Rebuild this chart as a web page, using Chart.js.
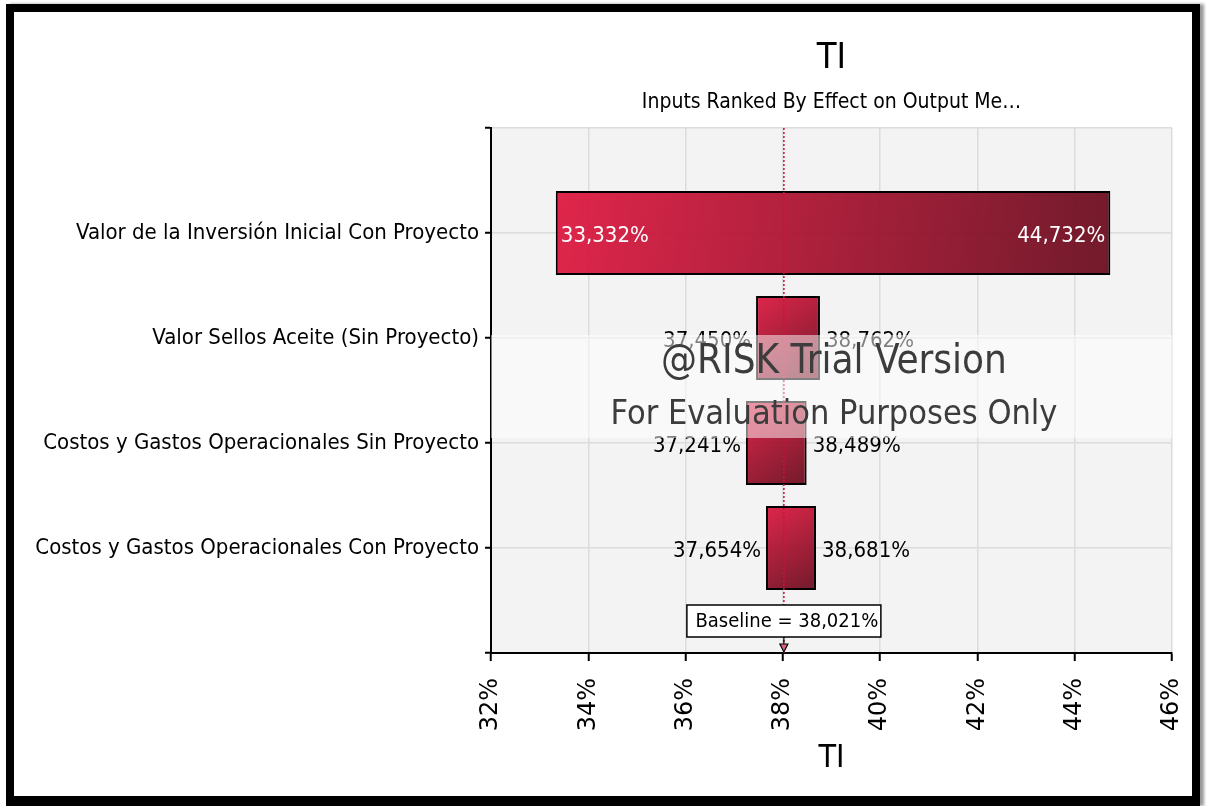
<!DOCTYPE html>
<html>
<head>
<meta charset="utf-8">
<script src="https://cdn.jsdelivr.net/npm/chart.js@4"></script>
<style>
  body { margin: 0; background: #fff; width: 1206px; height: 806px; overflow: hidden; }
  #frame {
    position: absolute; left: 6px; top: 4px;
    width: 1178px; height: 784px;
    border: 8px solid #000; border-bottom-width: 10px;
    box-shadow: 4px 0 3px #999;
    background: #fff;
  }
  canvas { display: block; }
</style>
</head>
<body>
<div id="frame"><canvas id="chart" width="1178" height="784"></canvas></div>
<script>
const categories = [
    "Valor de la Inversión Inicial Con Proyecto",
    "Valor Sellos Aceite (Sin Proyecto)",
    "Costos y Gastos Operacionales Sin Proyecto",
    "Costos y Gastos Operacionales Con Proyecto"
];
const lowValues = [33.332, 37.450, 37.241, 37.654];
const highValues = [44.732, 38.762, 38.489, 38.681];
const baseline = 38.021;
const xMin = 32, xMax = 46, xStep = 2;

const narrow = '"Liberation Sans Narrow", "DejaVu Sans Condensed", sans-serif';
const fmt = v => v.toFixed(3).replace(".", ",") + "%";

// empty slot above and below so the rows sit like in @RISK
const yLabels = [""].concat(categories, [""]);
const barData = [null].concat(categories.map((c, i) => [lowValues[i], highValues[i]]), [null]);

function barGradient(ctx) {
    const chart = ctx.chart;
    const raw = ctx.raw;
    if (!chart.chartArea || !raw) return "#c0143a";
    const xs = chart.scales.x, ys = chart.scales.y;
    const x0 = xs.getPixelForValue(raw[0]);
    const x1 = xs.getPixelForValue(raw[1]);
    const yc = ys.getPixelForValue(ctx.dataIndex);
    const g = chart.ctx.createLinearGradient(x0, yc - 42, x1, yc + 42);
    g.addColorStop(0, "rgba(222,22,62,0.93)");
    g.addColorStop(1, "rgba(104,10,28,0.93)");
    return g;
}

const backdrop = {
    id: "backdrop",
    beforeDraw(chart) {
        const { ctx, chartArea: a } = chart;
        ctx.save();
        ctx.fillStyle = "#f3f3f3";
        ctx.fillRect(a.left, a.top, a.right - a.left, a.bottom - a.top);
        ctx.restore();
    }
};

const extras = {
    id: "extras",
    afterDatasetsDraw(chart) {
        const { ctx, chartArea: a, scales } = chart;
        const bx = scales.x.getPixelForValue(baseline);

        // baseline dotted line
        ctx.save();
        ctx.strokeStyle = "#d0103a";
        ctx.lineWidth = 1.5;
        ctx.setLineDash([2, 2]);
        ctx.beginPath();
        ctx.moveTo(bx, a.top);
        ctx.lineTo(bx, a.bottom);
        ctx.stroke();
        ctx.restore();

        // value labels
        ctx.save();
        ctx.font = "22px " + narrow;
        ctx.textBaseline = "middle";
        categories.forEach((c, i) => {
            const y = scales.y.getPixelForValue(i + 1) + 3;
            const x0 = scales.x.getPixelForValue(lowValues[i]);
            const x1 = scales.x.getPixelForValue(highValues[i]);
            const lo = fmt(lowValues[i]), hi = fmt(highValues[i]);
            const need = ctx.measureText(lo).width + ctx.measureText(hi).width + 30;
            if (x1 - x0 > need) {
                ctx.fillStyle = "#fff";
                ctx.textAlign = "left";
                ctx.fillText(lo, x0 + 5, y);
                ctx.textAlign = "right";
                ctx.fillText(hi, x1 - 5, y);
            } else {
                ctx.fillStyle = "#000";
                ctx.textAlign = "right";
                ctx.fillText(lo, x0 - 5, y);
                ctx.textAlign = "left";
                ctx.fillText(hi, x1 + 6, y);
            }
        });
        ctx.restore();

        // baseline box + arrow
        const bw = 194, bh = 32, btop = a.bottom - 48;
        ctx.save();
        ctx.fillStyle = "#fff";
        ctx.strokeStyle = "#000";
        ctx.lineWidth = 1.5;
        ctx.fillRect(bx - bw / 2, btop, bw, bh);
        ctx.strokeRect(bx - bw / 2, btop, bw, bh);
        ctx.fillStyle = "#000";
        ctx.font = "20px " + narrow;
        ctx.textAlign = "center";
        ctx.textBaseline = "middle";
        ctx.fillText("Baseline = " + fmt(baseline), bx + 3, btop + bh / 2 + 1);
        ctx.beginPath();
        ctx.moveTo(bx - 4, a.bottom - 9);
        ctx.lineTo(bx + 4, a.bottom - 9);
        ctx.lineTo(bx, a.bottom - 1);
        ctx.closePath();
        ctx.fillStyle = "#e06080";
        ctx.fill();
        ctx.lineWidth = 1.2;
        ctx.stroke();
        ctx.beginPath();
        ctx.moveTo(bx, btop + bh);
        ctx.lineTo(bx, a.bottom - 9);
        ctx.stroke();
        ctx.restore();
    },
    afterDraw(chart) {
        const { ctx, chartArea: a } = chart;
        // trial watermark
        ctx.save();
        ctx.fillStyle = "rgba(255,255,255,0.5)";
        ctx.fillRect(a.left, 323, a.right - a.left, 103);
        ctx.fillStyle = "#3c3c3c";
        ctx.textAlign = "center";
        ctx.textBaseline = "middle";
        ctx.font = "40px " + narrow;
        ctx.fillText("@RISK Trial Version", 820, 351);
        ctx.font = "34px " + narrow;
        ctx.fillText("For Evaluation Purposes Only", 820, 403);
        ctx.restore();
    }
};

new Chart("chart", {
    type: "bar",
    data: {
        labels: yLabels,
        datasets: [{
            label: "TI",
            data: barData,
            backgroundColor: barGradient,
            borderColor: "#000",
            borderWidth: 2,
            borderSkipped: false,
            categoryPercentage: 0.8,
            barPercentage: 1.0
        }]
    },
    options: {
        indexAxis: "y",
        responsive: false,
        animation: false,
        layout: { padding: { left: 0, right: 20, top: 0, bottom: 0 } },
        plugins: {
            legend: { display: false },
            tooltip: { enabled: false },
            title: {
                display: true,
                text: "TI",
                fullSize: false,
                color: "#000",
                font: { family: narrow, size: 36, weight: "normal" },
                padding: { top: 25, bottom: 10 }
            },
            subtitle: {
                display: true,
                text: "Inputs Ranked By Effect on Output Me…",
                fullSize: false,
                color: "#000",
                font: { family: narrow, size: 21 },
                padding: { top: 0, bottom: 12.6 }
            }
        },
        scales: {
            x: {
                type: "linear",
                min: xMin,
                max: xMax,
                afterFit: s => {
                    s.height = 143;
                    s.paddingLeft = 0;
                    s.paddingRight = 0;
                },
                ticks: {
                    stepSize: xStep,
                    minRotation: 90,
                    maxRotation: 90,
                    padding: 17,
                    color: "#000",
                    font: { family: "DejaVu Sans", size: 24 },
                    callback: v => v + "%"
                },
                grid: { color: "#dcdcdc", lineWidth: 1.5, tickColor: "#000", tickLength: 8, tickWidth: 2 },
                border: { color: "#000", width: 2 },
                title: {
                    display: true,
                    text: "TI",
                    color: "#000",
                    font: { family: narrow, size: 32 },
                    padding: { top: 0, bottom: 18 }
                }
            },
            y: {
                type: "category",
                offset: false,
                afterFit: s => { s.width = 477; },
                ticks: {
                    padding: 6,
                    color: "#000",
                    font: { family: narrow, size: 22 },
                    autoSkip: false
                },
                grid: { offset: false, color: "#dcdcdc", lineWidth: 1.5, tickColor: "#000", tickLength: 6, tickWidth: 2 },
                border: { color: "#000", width: 2 }
            }
        }
    },
    plugins: [backdrop, extras]
});
</script>
</body>
</html>
